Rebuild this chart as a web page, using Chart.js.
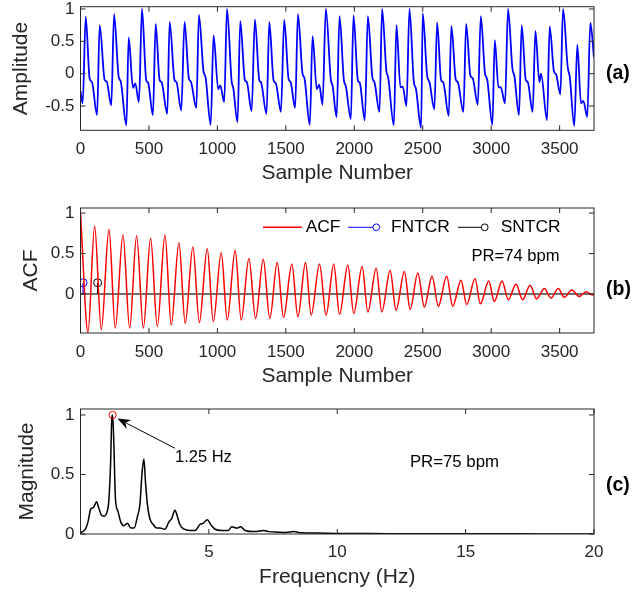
<!DOCTYPE html>
<html>
<head>
<meta charset="utf-8">
<script src="https://cdn.jsdelivr.net/npm/chart.js@4.4.1/dist/chart.umd.min.js"></script>
<style>
  html, body { margin: 0; padding: 0; background: #fff; }
  #wrap { position: relative; width: 644px; height: 593px; }
  canvas { position: absolute; left: 0; }
</style>
</head>
<body>
<div id="wrap">
  <canvas id="ppg" width="644" height="193" style="top:0px"></canvas>
  <canvas id="acf" width="644" height="198" style="top:195px"></canvas>
  <canvas id="fft" width="644" height="196" style="top:397px"></canvas>
</div>
<script>
// ---- axis ticks ----
const sampleTicks = [0, 500, 1000, 1500, 2000, 2500, 3000, 3500];
const ampTicks = [-0.5, 0, 0.5, 1];
const acfTicks = [0, 0.5, 1];
const freqTicks = [5, 10, 15, 20];
const magTicks = [0, 0.5, 1];

// ---- (a) PPG waveform, read beat by beat ----
const ppgLeadS = [0, 16];
const ppgLeadA = [-0.27, -0.46];
const ppgPeakS = [38, 140, 245, 352, 449, 549, 651, 760, 865, 972, 1070, 1167, 1274, 1379, 1488, 1588, 1695, 1792, 1892, 1994, 2099, 2203, 2308, 2403, 2500, 2605, 2709, 2817, 2924, 3026, 3123, 3223, 3323, 3427, 3525, 3629, 3724];
const ppgPeakA = [0.88, 0.75, 0.92, 0.56, 1.0, 0.77, 0.80, 0.80, 0.91, 0.59, 1.0, 0.81, 0.84, 0.80, 0.83, 0.92, 0.58, 1.0, 0.89, 0.90, 0.89, 1.0, 0.75, 1.0, 0.93, 0.79, 0.74, 0.77, 0.89, 0.52, 1.0, 0.75, 0.66, 0.73, 1.0, 0.45, 0.79];
const ppgNotchS = [67, 177, 279, 383, 480, 578, 687, 792, 899, 1006, 1104, 1201, 1306, 1410, 1520, 1622, 1726, 1829, 1924, 2026, 2133, 2235, 2337, 2435, 2532, 2634, 2741, 2848, 2955, 3053, 3155, 3252, 3352, 3459, 3559, 3656];
const ppgNotchA = [-0.08, -0.10, -0.05, -0.22, -0.10, -0.10, -0.10, -0.08, 0.03, -0.24, -0.12, -0.10, -0.10, -0.10, -0.08, 0.0, -0.24, -0.10, -0.10, -0.10, -0.07, 0.03, -0.21, -0.13, -0.03, -0.10, -0.09, -0.03, 0.0, -0.21, 0.08, -0.09, -0.13, 0.03, 0.10, -0.46];
const ppgShoulderS = [84, 191, 294, 400, 494, 592, 701, 806, 913, 1021, 1116, 1215, 1318, 1427, 1535, 1636, 1744, 1841, 1938, 2040, 2147, 2247, 2354, 2450, 2549, 2649, 2756, 2865, 2970, 3070, 3170, 3267, 3364, 3474, 3574, 3673];
const ppgShoulderA = [-0.13, -0.12, -0.12, -0.15, -0.14, -0.13, -0.13, -0.12, -0.05, -0.18, -0.22, -0.13, -0.13, -0.15, -0.13, -0.07, -0.17, -0.18, -0.19, -0.14, -0.13, -0.05, -0.20, -0.23, -0.13, -0.13, -0.13, -0.07, -0.08, -0.21, -0.04, -0.13, 0.0, -0.01, -0.05, -0.42];
const ppgTroughS = [121, 225, 335, 427, 529, 634, 736, 846, 951, 1050, 1147, 1250, 1359, 1464, 1568, 1675, 1768, 1871, 1975, 2077, 2184, 2289, 2381, 2488, 2585, 2690, 2797, 2902, 3009, 3101, 3203, 3303, 3408, 3505, 3607, 3702];
const ppgTroughA = [-0.64, -0.49, -0.80, -0.44, -0.64, -0.62, -0.57, -0.53, -0.79, -0.44, -0.75, -0.58, -0.62, -0.59, -0.53, -0.79, -0.48, -0.67, -0.70, -0.72, -0.59, -0.80, -0.50, -0.84, -0.55, -0.65, -0.59, -0.48, -0.79, -0.46, -0.64, -0.59, -0.72, -0.32, -0.81, -0.67];
const ppgTailS = [3751];
const ppgTailA = [0.25];

// ---- (b) autocorrelation ----
const acfLeadLag = [0];
const acfLeadVal = [1.0];
const acfPeakLag = [103, 208, 310, 410, 512, 617, 719, 821, 926, 1028, 1130, 1230, 1335, 1437, 1544, 1644, 1746, 1850, 1953, 2057, 2160, 2262, 2366, 2464, 2568, 2675, 2780, 2882, 2982, 3079, 3181, 3284, 3388, 3490, 3588, 3692];
const acfPeakVal = [0.84, 0.80, 0.73, 0.72, 0.69, 0.73, 0.63, 0.58, 0.56, 0.51, 0.54, 0.44, 0.43, 0.39, 0.37, 0.39, 0.37, 0.37, 0.36, 0.34, 0.32, 0.29, 0.28, 0.26, 0.22, 0.22, 0.17, 0.19, 0.16, 0.16, 0.12, 0.11, 0.07, 0.07, 0.05, 0.03];
const acfTroughLag = [55, 152, 254, 359, 459, 561, 663, 765, 868, 970, 1072, 1174, 1279, 1383, 1483, 1588, 1685, 1794, 1892, 1996, 2099, 2201, 2305, 2408, 2512, 2614, 2719, 2821, 2921, 3023, 3125, 3230, 3332, 3437, 3534, 3644, 3741];
const acfTroughVal = [-0.47, -0.44, -0.42, -0.42, -0.42, -0.40, -0.38, -0.36, -0.35, -0.34, -0.32, -0.32, -0.30, -0.30, -0.29, -0.28, -0.26, -0.26, -0.25, -0.24, -0.22, -0.22, -0.20, -0.19, -0.16, -0.15, -0.15, -0.13, -0.12, -0.09, -0.07, -0.07, -0.06, -0.05, -0.04, -0.03, -0.01];
const acfTailLag = [3751];
const acfTailVal = [0.0];
const baseLag = [0, 3751];
const baseVal = [0, 0];
const fntcrLag = [19, 19];
const fntcrVal = [0, 0.14];
const sntcrLag = [125, 125];
const sntcrVal = [0, 0.14];

// ---- (c) spectrum ----
const specFreq = [0, 0.19, 0.29, 0.40, 0.49, 0.55, 0.62, 0.71, 0.81, 0.92, 1.04, 1.10, 1.17, 1.22, 1.25, 1.30, 1.36, 1.46, 1.57, 1.69, 1.83, 1.96, 2.09, 2.22, 2.31, 2.40, 2.47, 2.53, 2.61, 2.70, 2.83, 2.96, 3.09, 3.29, 3.44, 3.55, 3.68, 3.77, 3.87, 4.04, 4.26, 4.46, 4.65, 4.78, 4.94, 5.07, 5.24, 5.50, 5.76, 5.89, 6.09, 6.24, 6.41, 6.80, 7.13, 7.32, 7.71, 8.0, 8.31, 8.6, 9.2, 10, 11, 12, 14, 16, 18, 20];
const specMag = [0.01, 0.04, 0.10, 0.21, 0.22, 0.24, 0.27, 0.22, 0.16, 0.15, 0.19, 0.27, 0.58, 0.97, 1.0, 0.75, 0.30, 0.19, 0.10, 0.07, 0.09, 0.05, 0.05, 0.15, 0.24, 0.52, 0.63, 0.44, 0.24, 0.13, 0.08, 0.05, 0.05, 0.04, 0.10, 0.13, 0.20, 0.15, 0.08, 0.04, 0.03, 0.03, 0.08, 0.09, 0.12, 0.08, 0.04, 0.03, 0.03, 0.06, 0.05, 0.06, 0.03, 0.02, 0.03, 0.02, 0.015, 0.012, 0.02, 0.01, 0.008, 0.005, 0.004, 0.003, 0.002, 0.002, 0.001, 0.001];
const peakFreq = [1.25];
const peakMag = [1.0];

const FONT = "'Liberation Sans', Arial, Helvetica, sans-serif";
const INK = '#262626';
Chart.defaults.font.family = FONT;
Chart.defaults.color = INK;

function toPoints(xs, ys) {
  return xs.map((x, i) => ({ x: x, y: ys[i] }));
}

// stitch the beat features back into one trace
const ppgPoints = toPoints(ppgLeadS, ppgLeadA);
ppgPeakS.forEach((s, i) => {
  ppgPoints.push({ x: s, y: ppgPeakA[i] });
  if (i < ppgNotchS.length) {
    ppgPoints.push({ x: ppgNotchS[i], y: ppgNotchA[i] });
    ppgPoints.push({ x: ppgShoulderS[i], y: ppgShoulderA[i] });
    ppgPoints.push({ x: ppgTroughS[i], y: ppgTroughA[i] });
  }
});
ppgPoints.push(...toPoints(ppgTailS, ppgTailA));

const acfPoints = [].concat(
  toPoints(acfLeadLag, acfLeadVal),
  toPoints(acfPeakLag, acfPeakVal),
  toPoints(acfTroughLag, acfTroughVal),
  toPoints(acfTailLag, acfTailVal)
).sort((a, b) => a.x - b.x);

function xAxis(o) {
  return {
    type: 'linear', min: o.min, max: o.max,
    grid: { display: false, drawTicks: false },
    border: { display: false },
    ticks: { font: { size: 17 }, color: INK, padding: o.tickPad, maxRotation: 0, autoSkip: false, callback: v => String(v) },
    afterBuildTicks: s => { s.ticks = o.ticks.map(v => ({ value: v })); },
    afterFit: s => { s.height = o.height; s.paddingLeft = 0; s.paddingRight = 0; },
    title: { display: true, text: o.title, font: { size: 21 }, color: INK, padding: { top: 0, bottom: o.titlePad } }
  };
}

function yAxis(o) {
  return {
    type: 'linear', min: o.min, max: o.max,
    grid: { display: false, drawTicks: false },
    border: { display: false },
    ticks: { font: { size: 17 }, color: INK, padding: 6, autoSkip: false, callback: v => String(v) },
    afterBuildTicks: s => { s.ticks = o.ticks.map(v => ({ value: v })); },
    afterFit: s => { s.width = 80.5; s.paddingTop = 0; s.paddingBottom = 0; },
    title: { display: true, text: o.title, font: { size: 21 }, color: INK, padding: { top: o.titlePad, bottom: 0 } }
  };
}

// MATLAB style box with inward ticks and the panel letter
const framePlugin = {
  id: 'frame',
  afterDraw(chart, args, opts) {
    const { ctx, chartArea: a, scales } = chart;
    ctx.save();
    ctx.strokeStyle = INK;
    ctx.lineWidth = 1;
    ctx.strokeRect(a.left, a.top, a.right - a.left, a.bottom - a.top);
    const len = 5;
    ctx.beginPath();
    scales.x.ticks.forEach(t => {
      const px = scales.x.getPixelForValue(t.value);
      ctx.moveTo(px, a.bottom); ctx.lineTo(px, a.bottom - len);
      ctx.moveTo(px, a.top); ctx.lineTo(px, a.top + len);
    });
    scales.y.ticks.forEach(t => {
      const py = scales.y.getPixelForValue(t.value);
      ctx.moveTo(a.left, py); ctx.lineTo(a.left + len, py);
      ctx.moveTo(a.right, py); ctx.lineTo(a.right - len, py);
    });
    ctx.stroke();
    ctx.fillStyle = '#000';
    ctx.font = 'bold 19.5px ' + FONT;
    ctx.textAlign = 'left';
    ctx.textBaseline = 'middle';
    ctx.fillText(opts.label, a.right + 12, opts.labelY);
    ctx.restore();
  }
};

// legend + PR text for the ACF panel
const acfLegendPlugin = {
  id: 'acfLegend',
  afterDraw(chart) {
    const { ctx, chartArea: a, scales } = chart;
    const y = a.top + 19.3;
    const items = [
      { text: 'ACF', color: '#ff0000', x0: -331, x1: -292, tx: -288.3, ring: null },
      { text: 'FNTCR', color: '#0000ff', x0: -246, x1: -221, tx: -203, ring: -217.7 },
      { text: 'SNTCR', color: '#000000', x0: -136, x1: -112.7, tx: -93.3, ring: -109.3 }
    ];
    ctx.save();
    ctx.font = '17.4px ' + FONT;
    ctx.textBaseline = 'middle';
    ctx.textAlign = 'left';
    items.forEach(it => {
      ctx.strokeStyle = it.color;
      ctx.lineWidth = it.ring === null ? 1.5 : 1;
      ctx.beginPath();
      ctx.moveTo(a.right + it.x0, y);
      ctx.lineTo(a.right + it.x1, y);
      ctx.stroke();
      if (it.ring !== null) {
        ctx.beginPath();
        ctx.arc(a.right + it.ring, y, 3.4, 0, Math.PI * 2);
        ctx.stroke();
      }
      ctx.fillStyle = '#000';
      ctx.fillText(it.text, a.right + it.tx, y);
    });
    ctx.font = '16.6px ' + FONT;
    ctx.fillText('PR=74 bpm', scales.x.getPixelForValue(2856), scales.y.getPixelForValue(0.46));
    ctx.restore();
  }
};

// arrow annotation and PR text for the spectrum panel
const fftNotePlugin = {
  id: 'fftNote',
  afterDraw(chart) {
    const { ctx, scales } = chart;
    const X = v => scales.x.getPixelForValue(v);
    const Y = v => scales.y.getPixelForValue(v);
    const tx = X(3.68), ty = Y(0.72), hx = X(1.44), hy = Y(0.97);
    const ang = Math.atan2(hy - ty, hx - tx);
    const L = 13, W = 5;
    const bx = hx - L * Math.cos(ang), by = hy - L * Math.sin(ang);
    ctx.save();
    ctx.strokeStyle = '#000';
    ctx.fillStyle = '#000';
    ctx.lineWidth = 1;
    ctx.beginPath();
    ctx.moveTo(tx, ty);
    ctx.lineTo(bx + 3 * Math.cos(ang), by + 3 * Math.sin(ang));
    ctx.stroke();
    ctx.beginPath();
    ctx.moveTo(hx, hy);
    ctx.lineTo(bx - W * Math.sin(ang), by + W * Math.cos(ang));
    ctx.lineTo(bx + 4 * Math.cos(ang), by + 4 * Math.sin(ang));
    ctx.lineTo(bx + W * Math.sin(ang), by - W * Math.cos(ang));
    ctx.closePath();
    ctx.fill();
    ctx.font = '16.5px ' + FONT;
    ctx.textAlign = 'left';
    ctx.textBaseline = 'middle';
    ctx.fillText('1.25 Hz', X(3.68), Y(0.64));
    ctx.font = '16.8px ' + FONT;
    ctx.fillText('PR=75 bpm', X(12.83), Y(0.6));
    ctx.restore();
  }
};

const baseOptions = {
  responsive: false,
  animation: false,
  events: [],
  plugins: { legend: { display: false }, tooltip: { enabled: false } }
};

// (a)
new Chart(document.getElementById('ppg'), {
  type: 'line',
  data: {
    datasets: [{
      data: ppgPoints, borderColor: '#0000ff', borderWidth: 1.8,
      pointRadius: 0, cubicInterpolationMode: 'monotone', fill: false
    }]
  },
  options: Object.assign({}, baseOptions, {
    layout: { padding: { top: 6.7, right: 50, bottom: 0, left: 0 } },
    scales: {
      x: xAxis({ min: 0, max: 3751, ticks: sampleTicks, height: 62.7, tickPad: 9, title: 'Sample Number', titlePad: 7 }),
      y: yAxis({ min: -0.875, max: 1.035, ticks: ampTicks, title: 'Amplitude', titlePad: 9 })
    },
    plugins: Object.assign({}, baseOptions.plugins, { frame: { label: '(a)', labelY: 73.3 } })
  }),
  plugins: [framePlugin]
});

// (b)
new Chart(document.getElementById('acf'), {
  type: 'line',
  data: {
    datasets: [
      { data: acfPoints, borderColor: '#ff0000', borderWidth: 1.5, pointRadius: 0, cubicInterpolationMode: 'monotone', order: 0 },
      { data: toPoints(fntcrLag, fntcrVal), borderColor: '#0000ff', borderWidth: 1.2, pointRadius: [0, 4], pointBorderColor: '#0000ff', pointBackgroundColor: 'rgba(0,0,0,0)', pointBorderWidth: 1, order: 1 },
      { data: toPoints(sntcrLag, sntcrVal), borderColor: '#000000', borderWidth: 1.2, pointRadius: [0, 4], pointBorderColor: '#000000', pointBackgroundColor: 'rgba(0,0,0,0)', pointBorderWidth: 1, order: 1 },
      { data: toPoints(baseLag, baseVal), borderColor: '#707070', borderWidth: 2, pointRadius: 0, order: 2 }
    ]
  },
  options: Object.assign({}, baseOptions, {
    layout: { padding: { top: 13, right: 50, bottom: 0, left: 0 } },
    scales: {
      x: xAxis({ min: 0, max: 3751, ticks: sampleTicks, height: 60, tickPad: 9, title: 'Sample Number', titlePad: 4.4 }),
      y: yAxis({ min: -0.48, max: 1.062, ticks: acfTicks, title: 'ACF', titlePad: 18.2 })
    },
    plugins: Object.assign({}, baseOptions.plugins, { frame: { label: '(b)', labelY: 95 } })
  }),
  plugins: [framePlugin, acfLegendPlugin]
});

// (c)
new Chart(document.getElementById('fft'), {
  type: 'line',
  data: {
    datasets: [
      { data: toPoints(peakFreq, peakMag), showLine: false, pointRadius: 3.6, pointBorderColor: '#ff0000', pointBackgroundColor: 'rgba(0,0,0,0)', pointBorderWidth: 1, order: 0 },
      { data: toPoints(specFreq, specMag), borderColor: '#000000', borderWidth: 1.5, pointRadius: 0, cubicInterpolationMode: 'monotone', order: 1 }
    ]
  },
  options: Object.assign({}, baseOptions, {
    layout: { padding: { top: 12, right: 50, bottom: 0, left: 0 } },
    scales: {
      x: xAxis({ min: 0, max: 20, ticks: freqTicks, height: 59, tickPad: 8, title: 'Frequencny (Hz)', titlePad: 3.4 }),
      y: yAxis({ min: 0, max: 1.05, ticks: magTicks, title: 'Magnitude', titlePad: 15 })
    },
    plugins: Object.assign({}, baseOptions.plugins, { frame: { label: '(c)', labelY: 89 } })
  }),
  plugins: [framePlugin, fftNotePlugin]
});
</script>
</body>
</html>
